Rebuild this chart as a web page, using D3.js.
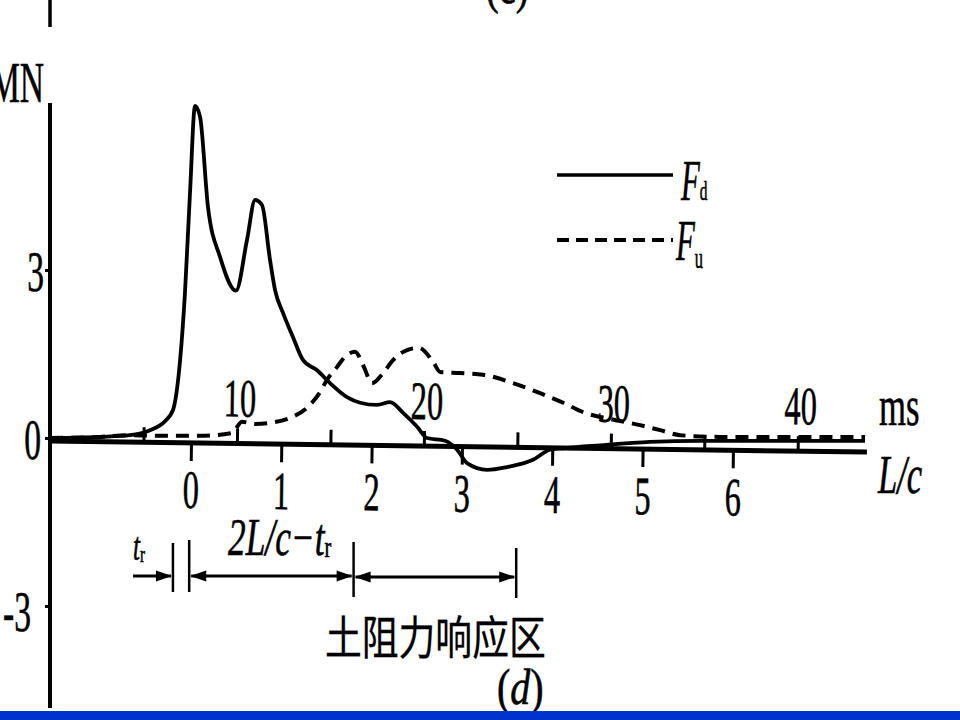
<!DOCTYPE html>
<html><head><meta charset="utf-8">
<script src="https://cdn.jsdelivr.net/npm/d3@7"></script>
<style>html,body{margin:0;padding:0;background:#fff;} svg{display:block;} text{stroke:#000;stroke-width:0.6px;}</style>
</head><body>
<svg id="chart" width="960" height="720"></svg>
<script>
// ---- data (time in ms, force in MN) ----
const fdTime  = [0, 2.68, 4.28, 5.35, 6.15, 6.58, 6.96, 7.22, 7.49, 7.76, 8.03, 8.45, 9.10, 9.95, 10.54, 10.97, 11.34, 11.77, 12.04, 12.47, 13.0, 13.54, 14.29, 14.98, 15.89, 16.59, 17.50, 18.19, 18.89, 19.64, 20.17, 21.13, 21.78, 22.31, 23.38, 24.45, 25.84, 26.75, 27.55, 29.43, 32.1, 34.78, 43.6];
const fdForce = [0, 0.02, 0.05, 0.14, 0.30, 0.50, 1.39, 2.59, 4.38, 5.93, 5.73, 4.13, 3.23, 2.63, 3.54, 4.25, 4.16, 3.18, 2.64, 2.23, 1.80, 1.39, 1.21, 0.98, 0.73, 0.63, 0.59, 0.64, 0.45, 0.20, 0.0, -0.05, -0.21, -0.45, -0.57, -0.52, -0.39, -0.21, -0.18, -0.13, -0.07, -0.05, -0.05];
const fuTime  = [0, 2.68, 4.28, 5.89, 8.03, 9.74, 10.27, 10.97, 11.77, 12.84, 13.75, 14.45, 14.82, 15.36, 15.78, 16.32, 16.75, 17.23, 17.82, 18.35, 19.10, 19.74, 20.49, 20.87, 21.94, 23.17, 24.77, 26.22, 27.45, 28.52, 29.96, 31.57, 32.64, 33.71, 35.85, 43.6];
const fuForce = [0, 0.02, 0.05, 0.04, 0.04, 0.09, 0.29, 0.25, 0.27, 0.36, 0.54, 0.82, 1.04, 1.27, 1.45, 1.54, 1.30, 0.98, 1.16, 1.39, 1.57, 1.61, 1.36, 1.18, 1.16, 1.13, 0.98, 0.80, 0.63, 0.46, 0.34, 0.23, 0.14, 0.05, 0.02, 0.02];
const msTicks = [5, 10, 15, 20, 25, 30, 35, 40];
const msLabels = [10, 20, 30, 40];
const lcTicks = [0, 1, 2, 3, 4, 5, 6];
const forceTicks = [-3, 0, 3];
const zoneMarks = [-0.2, -0.02, 1.8, 3.6];   // in L/c units
const zoneLabel = "土阻力响应区";

const svg = d3.select("#chart");
const SERIF = "'Liberation Serif','Times New Roman',serif";
const x = d3.scaleLinear().domain([0, 43.6]).range([50, 865]);
const y = d3.scaleLinear().domain([-3, 3]).range([606, 270]);
const xLc = d3.scaleLinear().domain([0, 6]).range([191, 733]);

function ctext(g, px, py, size, sx, opts = {}) {
  return g.append("text")
    .attr("transform", `translate(${px},${py}) scale(${sx},1)`)
    .attr("font-family", opts.family || SERIF)
    .attr("font-size", size)
    .attr("font-style", opts.italic ? "italic" : "normal")
    .attr("text-anchor", opts.anchor || "start")
    .attr("fill", "#000");
}

// remnant of upper panel
svg.append("line").attr("x1", 50).attr("x2", 50).attr("y1", 0).attr("y2", 27)
  .attr("stroke", "#000").attr("stroke-width", 3.5);
ctext(svg, 486, 3, 51, 0.75).text("(c)");

// y axis
svg.append("line").attr("x1", 50).attr("x2", 50).attr("y1", 103).attr("y2", 708)
  .attr("stroke", "#000").attr("stroke-width", 4);
const gy = svg.append("g").attr("transform", "translate(50,0)")
  .call(d3.axisLeft(y).tickValues(forceTicks).tickSize(5).tickFormat(d => d < 0 ? "-" + Math.abs(d) : d));
gy.select(".domain").remove();
gy.selectAll(".tick line").attr("stroke", "#000").attr("stroke-width", 3);
gy.selectAll(".tick text").attr("font-family", SERIF).attr("font-size", 56).attr("fill", "#000")
  .attr("x", 0).attr("y", 0).attr("dy", 0)
  .attr("transform", d => `translate(${d < 0 ? -19 : d === 0 ? -9 : -6},${d < 0 ? 24 : 20}) scale(0.6,1)`);
ctext(svg, 44, 102, 56, 0.6, {anchor: "end"}).text("MN");

// horizontal axes (ms on top, L/c below) sharing one base line
const gAx = svg.append("g").attr("transform", "translate(50,441) rotate(0.78) translate(-50,0)");
gAx.append("line").attr("x1", 50).attr("x2", 867).attr("y1", 0).attr("y2", 0)
  .attr("stroke", "#000").attr("stroke-width", 5);
const gMs = gAx.append("g")
  .call(d3.axisTop(x).tickValues(msTicks).tickSize(15).tickFormat(d => msLabels.includes(d) ? d : ""));
gMs.select(".domain").remove();
gMs.selectAll(".tick line").attr("stroke", "#000").attr("stroke-width", 3);
gMs.selectAll(".tick text").attr("font-family", SERIF).attr("font-size", 54).attr("fill", "#000")
  .attr("y", 0).attr("dy", 0).attr("transform", "translate(2,-27) scale(0.6,1)");
const gLc = gAx.append("g")
  .call(d3.axisBottom(xLc).tickValues(lcTicks).tickSize(18).tickFormat(d3.format("d")));
gLc.select(".domain").remove();
gLc.selectAll(".tick line").attr("stroke", "#000").attr("stroke-width", 3);
gLc.selectAll(".tick text").attr("font-family", SERIF).attr("font-size", 54).attr("fill", "#000")
  .attr("y", 0).attr("dy", 0).attr("transform", "translate(0,65) scale(0.6,1)");
ctext(svg, 879, 425, 56, 0.62).text("ms");
ctext(svg, 878, 493, 54, 0.64, {italic: true}).text("L/c");

// curves
const line = d3.line().x(d => x(d[0])).y(d => y(d[1])).curve(d3.curveMonotoneX);
const fd = fdTime.map((t, i) => [t, fdForce[i]]);
const fu = fuTime.map((t, i) => [t, fuForce[i]]);
svg.append("path").datum(fu).attr("d", line).attr("fill", "none").attr("stroke", "#000")
  .attr("stroke-width", 4).attr("stroke-dasharray", "13,8").attr("stroke-linejoin", "round");
svg.append("path").datum(fd).attr("d", line).attr("fill", "none").attr("stroke", "#000")
  .attr("stroke-width", 3.8).attr("stroke-linejoin", "round");

// legend
svg.append("line").attr("x1", 557).attr("x2", 673).attr("y1", 175).attr("y2", 175)
  .attr("stroke", "#000").attr("stroke-width", 3.5);
svg.append("line").attr("x1", 557).attr("x2", 673).attr("y1", 240).attr("y2", 240)
  .attr("stroke", "#000").attr("stroke-width", 4).attr("stroke-dasharray", "12,7");
const l1 = ctext(svg, 681, 200, 56, 0.55, {italic: true});
l1.append("tspan").text("F");
l1.append("tspan").attr("font-size", 28).attr("font-style", "normal").text("d");
const l2 = ctext(svg, 676, 260, 56, 0.55, {italic: true});
l2.append("tspan").text("F");
l2.append("tspan").attr("font-size", 30).attr("font-style", "normal").attr("dy", 8).text("u");

// time-zone annotation (positions in L/c units)
const ga = svg.append("g");
const vx = zoneMarks.map(d => xLc(d));
const vTops = [543, 540, 542, 548], vBots = [592, 592, 597, 598];
vx.forEach((px, i) => ga.append("line").attr("x1", px).attr("x2", px)
  .attr("y1", vTops[i]).attr("y2", vBots[i]).attr("stroke", "#000").attr("stroke-width", 2.5));
function arrowHead(px, py, dir) {
  const L = 16, H = 5.5;
  ga.append("path").attr("d", `M${px},${py} L${px - dir * L},${py - H} L${px - dir * L},${py + H} Z`)
    .attr("fill", "#000");
}
function hline(x1, x2, py) {
  ga.append("line").attr("x1", x1).attr("x2", x2).attr("y1", py).attr("y2", py)
    .attr("stroke", "#000").attr("stroke-width", 3);
}
const ay = 576;
hline(133, vx[0] - 2, ay); arrowHead(vx[0] - 1, ay, 1);
hline(vx[1] + 2, vx[2] - 2, ay); arrowHead(vx[1] + 1, ay, -1); arrowHead(vx[2] - 1, ay, 1);
hline(vx[2] + 2, vx[3] - 2, ay + 1); arrowHead(vx[2] + 1, ay + 1, -1); arrowHead(vx[3] - 1, ay + 1, 1);

const tr = ctext(ga, 133, 560, 40, 0.62, {italic: true});
tr.append("tspan").text("t");
tr.append("tspan").attr("font-size", 24).attr("font-style", "normal").attr("dy", 2).text("r");
const t2 = ctext(ga, 228, 555, 52, 0.68, {italic: true});
t2.append("tspan").text("2L/c−t");
t2.append("tspan").attr("font-size", 30).attr("font-style", "normal").attr("dy", 2).text("r");
ctext(ga, 325, 654, 46, 0.8, {family: "'Noto Sans CJK SC', sans-serif"}).style("stroke-width", "0.3px").text(zoneLabel);
const dl = ctext(ga, 497, 704, 50, 0.8);
dl.append("tspan").text("(");
dl.append("tspan").attr("font-style", "italic").text("d");
dl.append("tspan").text(")");

// bottom bar
svg.append("rect").attr("x", 0).attr("y", 711).attr("width", 960).attr("height", 9).attr("fill", "#0033cc");
</script>
</body></html>
